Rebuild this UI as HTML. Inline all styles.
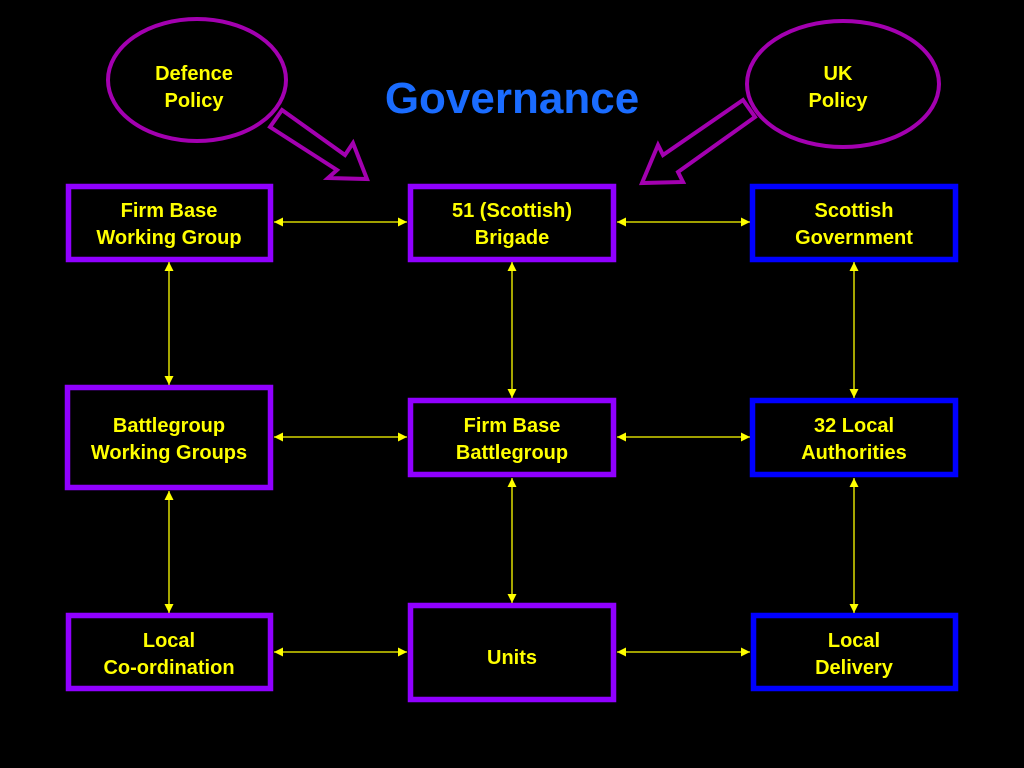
<!DOCTYPE html>
<html><head><meta charset="utf-8"><style>
html,body{margin:0;padding:0;background:#000;width:1024px;height:768px;overflow:hidden}
svg{display:block}
text{font-family:"Liberation Sans",Arial,sans-serif;font-weight:bold;fill:#ffff00;font-size:20px;text-anchor:middle}
</style></head><body>
<svg width="1024" height="768" viewBox="0 0 1024 768" xmlns="http://www.w3.org/2000/svg">
<defs>
<marker id="a" viewBox="0 0 10 10" refX="10" refY="5" markerWidth="9" markerHeight="9" markerUnits="userSpaceOnUse" orient="auto-start-reverse">
<path d="M0,0 L10,5 L0,10 z" fill="#ffff00"/></marker>
</defs>
<rect width="1024" height="768" fill="#000"/>
<!-- ellipses -->
<ellipse cx="197" cy="80" rx="89" ry="61" fill="#000" stroke="#a300b0" stroke-width="4"/>
<ellipse cx="843" cy="84" rx="96" ry="63" fill="#000" stroke="#a300b0" stroke-width="4"/>
<polygon points="282,110 345,155 353,143 367,179 328,178 337,170 270,127" fill="#000" stroke="#a300b0" stroke-width="4" stroke-linejoin="miter"/>
<polygon points="743,100 663,155 658,145 642,183 683,182 678,172 755,117" fill="#000" stroke="#a300b0" stroke-width="4"/>
<text x="194" y="80">Defence</text><text x="194" y="107">Policy</text>
<text x="838" y="80">UK</text><text x="838" y="107">Policy</text>
<text x="512" y="113" style="font-size:44px;fill:#1a6cff">Governance</text>
<!-- boxes -->
<g fill="#000" stroke-width="5.5">
<rect x="68.5" y="186.5" width="202" height="73" stroke="#9000ff"/>
<rect x="410.5" y="186.5" width="203" height="73" stroke="#9000ff"/>
<rect x="752.5" y="186.5" width="203" height="73" stroke="#0000ff"/>
<rect x="67.5" y="387.5" width="203" height="100" stroke="#9000ff"/>
<rect x="410.5" y="400.5" width="203" height="74" stroke="#9000ff"/>
<rect x="752.5" y="400.5" width="203" height="74" stroke="#0000ff"/>
<rect x="68.5" y="615.5" width="202" height="73" stroke="#9000ff"/>
<rect x="410.5" y="605.5" width="203" height="94" stroke="#9000ff"/>
<rect x="753.5" y="615.5" width="202" height="73" stroke="#0000ff"/>
</g>
<text x="169" y="217">Firm Base</text><text x="169" y="244">Working Group</text>
<text x="512" y="217">51 (Scottish)</text><text x="512" y="244">Brigade</text>
<text x="854" y="217">Scottish</text><text x="854" y="244">Government</text>
<text x="169" y="432">Battlegroup</text><text x="169" y="459">Working Groups</text>
<text x="512" y="432">Firm Base</text><text x="512" y="459">Battlegroup</text>
<text x="854" y="432">32 Local</text><text x="854" y="459">Authorities</text>
<text x="169" y="647">Local</text><text x="169" y="674">Co-ordination</text>
<text x="512" y="664">Units</text>
<text x="854" y="647">Local</text><text x="854" y="674">Delivery</text>
<!-- connectors -->
<g stroke="#ffff00" stroke-width="1.3" marker-start="url(#a)" marker-end="url(#a)">
<line x1="274" y1="222" x2="407" y2="222"/>
<line x1="617" y1="222" x2="750" y2="222"/>
<line x1="274" y1="437" x2="407" y2="437"/>
<line x1="617" y1="437" x2="750" y2="437"/>
<line x1="274" y1="652" x2="407" y2="652"/>
<line x1="617" y1="652" x2="750" y2="652"/>
<line x1="169" y1="262" x2="169" y2="385"/>
<line x1="169" y1="491" x2="169" y2="613"/>
<line x1="512" y1="262" x2="512" y2="398"/>
<line x1="512" y1="478" x2="512" y2="603"/>
<line x1="854" y1="262" x2="854" y2="398"/>
<line x1="854" y1="478" x2="854" y2="613"/>
</g>
</svg>
</body></html>
